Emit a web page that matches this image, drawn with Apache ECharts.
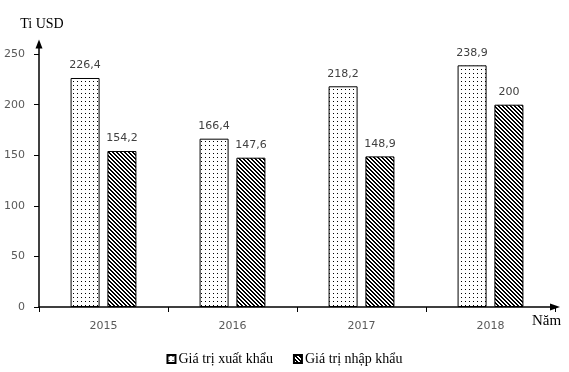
<!DOCTYPE html>
<html>
<head>
<meta charset="utf-8">
<script src="https://cdn.jsdelivr.net/npm/echarts@6/dist/echarts.min.js"></script>
<style>
html,body{margin:0;padding:0;background:#fff;}
#chart{width:569px;height:372px;}
</style>
</head>
<body>
<div id="chart"></div>
<script>
const categories = ['2015', '2016', '2017', '2018'];
const exportValues = [226.4, 166.4, 218.2, 238.9];
const importValues = [154.2, 147.6, 148.9, 200];
const yTicks = [0, 50, 100, 150, 200, 250];
const seriesNames = ['Giá trị xuất khẩu', 'Giá trị nhập khẩu'];
const yAxisName = 'Ti USD';
const xAxisName = 'Năm';

function makePattern(draw) {
  const c = document.createElement('canvas');
  c.width = 4; c.height = 4;
  const ctx = c.getContext('2d');
  ctx.fillStyle = '#fff';
  ctx.fillRect(0, 0, 4, 4);
  ctx.fillStyle = '#000';
  draw(ctx);
  return c;
}
const dotPattern = makePattern(ctx => { ctx.fillRect(1, 1, 1, 1); });
const hatchPattern = makePattern(ctx => {
  for (let y = 0; y < 4; y++) for (let x = 0; x < 4; x++) {
    if (((x - y) % 4 + 4) % 4 < 2) ctx.fillRect(x, y, 1, 1);
  }
});

const fmt = p => String(p.value).replace('.', ',');
const labelStyle = {
  show: true, position: 'top', distance: 7,
  fontFamily: 'DejaVu Sans', fontSize: 11, color: '#404040',
  formatter: fmt
};

const chart = echarts.init(document.getElementById('chart'), null, {renderer: 'canvas'});
chart.setOption({
  animation: false,
  backgroundColor: '#fff',
  grid: {left: 39, right: 14, top: 44, bottom: 65, containLabel: false},
  legend: {
    bottom: 1, left: 'center',
    itemWidth: 8, itemHeight: 8, itemGap: 20,
    icon: 'rect',
    textStyle: {fontFamily: 'Liberation Serif', fontSize: 14, color: '#000', padding: [0, 0, 0, -2]},
    data: seriesNames
  },
  xAxis: {
    type: 'category',
    data: categories,
    axisLine: {lineStyle: {color: '#000', width: 1.5}, symbol: ['none', 'triangle'], symbolSize: [7, 10]},
    axisTick: {show: true, length: 5, lineStyle: {color: '#000'}},
    axisLabel: {margin: 14, fontFamily: 'DejaVu Sans', fontSize: 11, color: '#595959'}
  },
  yAxis: {
    type: 'value',
    min: 0, max: 260, interval: 50,
    name: yAxisName,
    nameLocation: 'end',
    nameGap: 13,
    nameTextStyle: {fontFamily: 'Liberation Serif', fontSize: 14, color: '#000', align: 'center', padding: [0, 0, 0, 6]},
    axisLine: {show: true, lineStyle: {color: '#000', width: 1.5}, symbol: ['none', 'triangle'], symbolSize: [7, 9]},
    axisTick: {show: true, length: 5, lineStyle: {color: '#000'}, customValues: yTicks},
    axisLabel: {margin: 14, fontFamily: 'DejaVu Sans', fontSize: 11, color: '#595959', customValues: yTicks},
    splitLine: {show: false}
  },
  graphic: [{
    type: 'text', left: 532, top: 314,
    style: {text: xAxisName, font: '15px "Liberation Serif"', fill: '#000'}
  }],
  series: [
    {
      name: seriesNames[0], type: 'bar', data: exportValues,
      barWidth: 29, barGap: '27%',
      itemStyle: {color: {image: dotPattern, repeat: 'repeat'}, borderColor: '#000', borderWidth: 1},
      label: labelStyle
    },
    {
      name: seriesNames[1], type: 'bar', data: importValues,
      barWidth: 29,
      itemStyle: {color: {image: hatchPattern, repeat: 'repeat'}, borderColor: '#000', borderWidth: 1},
      label: labelStyle
    }
  ]
});
</script>
</body>
</html>
